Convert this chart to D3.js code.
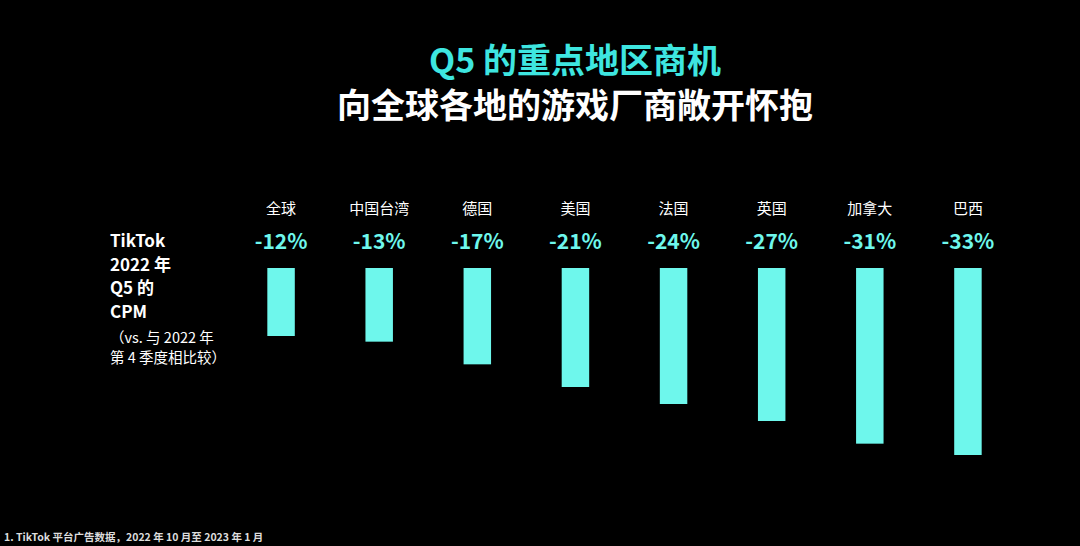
<!DOCTYPE html>
<html><head><meta charset="utf-8">
<script src="https://cdn.jsdelivr.net/npm/d3@7"></script>
<style>body{margin:0;background:#000}svg{display:block}</style>
</head><body>
<svg id="chart" width="1080" height="546"></svg>
<script>
// chart data
var regions = ["全球", "中国台湾", "德国", "美国", "法国", "英国", "加拿大", "巴西"];
var cpmChange = [-12, -13, -17, -21, -24, -27, -31, -33];

var svg = d3.select("#chart");
var font = "'Noto Sans CJK SC', 'Noto Sans', sans-serif";
var teal = "#6ef7ec";

svg.append("rect").attr("width", 1080).attr("height", 546).attr("fill", "#000");

// titles
svg.append("text").attr("x", 575).attr("y", 73).attr("text-anchor", "middle")
  .attr("font-family", font).attr("font-weight", 700).attr("font-size", 34)
  .attr("fill", "#3ee6e0").text("Q5 的重点地区商机");
svg.append("text").attr("x", 575).attr("y", 118).attr("text-anchor", "middle")
  .attr("font-family", font).attr("font-weight", 700).attr("font-size", 34)
  .attr("fill", "#fff").text("向全球各地的游戏厂商敞开怀抱");

// left label
var leftLines = ["TikTok", "2022 年", "Q5 的", "CPM"];
leftLines.forEach(function (t, i) {
  svg.append("text").attr("x", 110).attr("y", 247 + i * 23.5)
    .attr("font-family", font).attr("font-weight", 700).attr("font-size", 17)
    .attr("fill", "#fff").text(t);
});
svg.append("text").attr("x", 110).attr("y", 343).attr("font-family", font)
  .attr("font-size", 14.5).attr("fill", "#fff").text("（vs. 与 2022 年");
svg.append("text").attr("x", 110).attr("y", 363).attr("font-family", font)
  .attr("font-size", 14.5).attr("fill", "#fff").text("第 4 季度相比较）");

// scales
var x = d3.scaleBand().domain(regions).range([232, 1017]).paddingInner(0.72).paddingOuter(0.36);
var y = d3.scaleLinear().domain([0, -33]).range([268, 455]);

var g = svg.append("g");
g.selectAll("rect.bar").data(regions).enter().append("rect")
  .attr("class", "bar")
  .attr("x", function (d) { return x(d); })
  .attr("width", x.bandwidth())
  .attr("y", y(0))
  .attr("height", function (d, i) { return y(cpmChange[i]) - y(0); })
  .attr("fill", teal);

g.selectAll("text.region").data(regions).enter().append("text")
  .attr("class", "region")
  .attr("x", function (d) { return x(d) + x.bandwidth() / 2; })
  .attr("y", 214).attr("text-anchor", "middle")
  .attr("font-family", font).attr("font-size", 15).attr("fill", "#fff")
  .text(function (d) { return d; });

g.selectAll("text.pct").data(regions).enter().append("text")
  .attr("class", "pct")
  .attr("x", function (d) { return x(d) + x.bandwidth() / 2; })
  .attr("y", 249).attr("text-anchor", "middle")
  .attr("font-family", font).attr("font-weight", 700).attr("font-size", 21)
  .attr("fill", teal)
  .text(function (d, i) { return cpmChange[i] + "%"; });

// footnote
svg.append("text").attr("x", 4).attr("y", 541).attr("font-family", font)
  .attr("font-weight", 700).attr("font-size", 10.5).attr("fill", "#ddd")
  .text("1. TikTok 平台广告数据，2022 年 10 月至 2023 年 1 月");
</script>
</body></html>
